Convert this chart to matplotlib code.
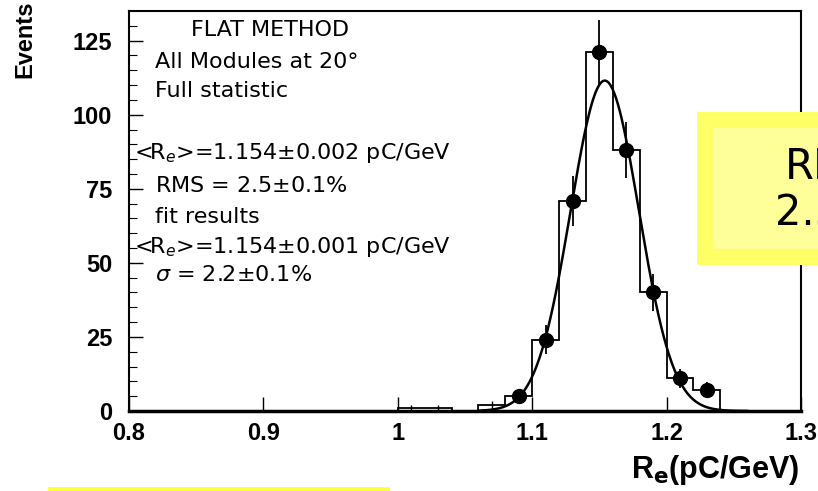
import numpy as np
import matplotlib.pyplot as plt
from matplotlib.patches import Rectangle

# histogram bins (width 0.02) and counts
bin_edges = [1.00, 1.02, 1.04, 1.06, 1.08, 1.10, 1.12, 1.14, 1.16, 1.18, 1.20, 1.22, 1.24, 1.26]
counts = [1, 1, 0, 2, 5, 24, 71, 121, 88, 40, 11, 7, 0]

# data points with markers
pt_x = [1.09, 1.11, 1.13, 1.15, 1.17, 1.19, 1.21, 1.23]
pt_y = [5, 24, 71, 121, 88, 40, 11, 7]

# small bins: only error bars visible
small_x = [1.01, 1.03, 1.07]
small_y = [1, 1, 2]

# gaussian fit parameters
fit_amp = 111.5
fit_mean = 1.154
fit_sigma = 0.0254
fit_range = (1.06, 1.26)

info_lines = [
    ("FLAT METHOD", 0.093, 0.952),
    ("All Modules at 20°", 0.038, 0.872),
    ("Full statistic", 0.038, 0.80),
    (r"<R$_{e}$>=1.154$\pm$0.002 pC/GeV", 0.008, 0.645),
    (r"RMS = 2.5$\pm$0.1%", 0.038, 0.5625),
    ("fit results", 0.038, 0.485),
    (r"<R$_{e}$>=1.154$\pm$0.001 pC/GeV", 0.008, 0.41),
    (r"$\sigma$ = 2.2$\pm$0.1%", 0.038, 0.34),
]

fig = plt.figure(figsize=(8.18, 4.91), dpi=100)
ax = fig.add_axes([129 / 818, 1 - 411 / 491, 672 / 818, 400 / 491])

ax.stairs(counts, bin_edges, color='black', linewidth=1.3)

xf = np.linspace(fit_range[0], fit_range[1], 300)
yf = fit_amp * np.exp(-0.5 * ((xf - fit_mean) / fit_sigma) ** 2)
ax.plot(xf, yf, color='black', linewidth=1.8)

ax.errorbar(pt_x, pt_y, yerr=np.sqrt(pt_y), fmt='o', color='black',
            markersize=10, elinewidth=1.3, capsize=0)
ax.errorbar(small_x, small_y, yerr=np.sqrt(small_y), fmt='none', color='black',
            elinewidth=1.0, capsize=0)

ax.set_xlim(0.8, 1.3)
ax.set_ylim(0, 135)
ax.set_xticks([0.8, 0.9, 1.0, 1.1, 1.2, 1.3])
ax.set_xticklabels(['0.8', '0.9', '1', '1.1', '1.2', '1.3'])
ax.set_yticks([0, 25, 50, 75, 100, 125])
ax.set_yticks(np.arange(0, 135, 5), minor=True)
ax.tick_params(axis='both', direction='in', labelsize=17, width=1, length=10)
ax.tick_params(axis='y', which='minor', direction='in', length=6, width=0.8)
ax.tick_params(axis='x', pad=8)
ax.tick_params(axis='y', pad=12)
for lab in ax.get_xticklabels() + ax.get_yticklabels():
    lab.set_fontweight('bold')
    lab.set_family('Liberation Sans')
for s in ax.spines.values():
    s.set_linewidth(1.5)
ax.spines['bottom'].set_linewidth(2.5)

for txt, x, y in info_lines:
    ax.text(x, y, txt, transform=ax.transAxes, fontsize=16,
            va='center', ha='left', family='DejaVu Sans')

fig.text(25 / 818, 1.0, 'Events', rotation=90, fontsize=17, fontweight='bold',
         family='Liberation Sans', ha='center', va='top')
fig.text(800 / 818, 1 - 470 / 491, r'R$_\mathbf{e}$(pC/GeV)', fontsize=22,
         fontweight='bold', family='Liberation Sans', ha='right', va='center')

# yellow overlay boxes
fig.patches.append(Rectangle((697 / 818, 1 - 265 / 491), 121 / 818, 153 / 491,
                             transform=fig.transFigure, facecolor='#ffff66',
                             edgecolor='none', zorder=5))
fig.patches.append(Rectangle((713 / 818, 1 - 249 / 491), 105 / 818, 121 / 491,
                             transform=fig.transFigure, facecolor='#ffff99',
                             edgecolor='none', zorder=6))
fig.text(785 / 818, 1 - 167 / 491, 'RMS', fontsize=30, color='black',
         ha='left', va='center', zorder=7)
fig.text(775 / 818, 1 - 214 / 491, '2.5%', fontsize=30, color='black',
         ha='left', va='center', zorder=7)
fig.patches.append(Rectangle((48 / 818, 0), 342 / 818, 4 / 491,
                             transform=fig.transFigure, facecolor='#ffff44',
                             edgecolor='none', zorder=5))

fig.savefig('out.png', dpi=100)
